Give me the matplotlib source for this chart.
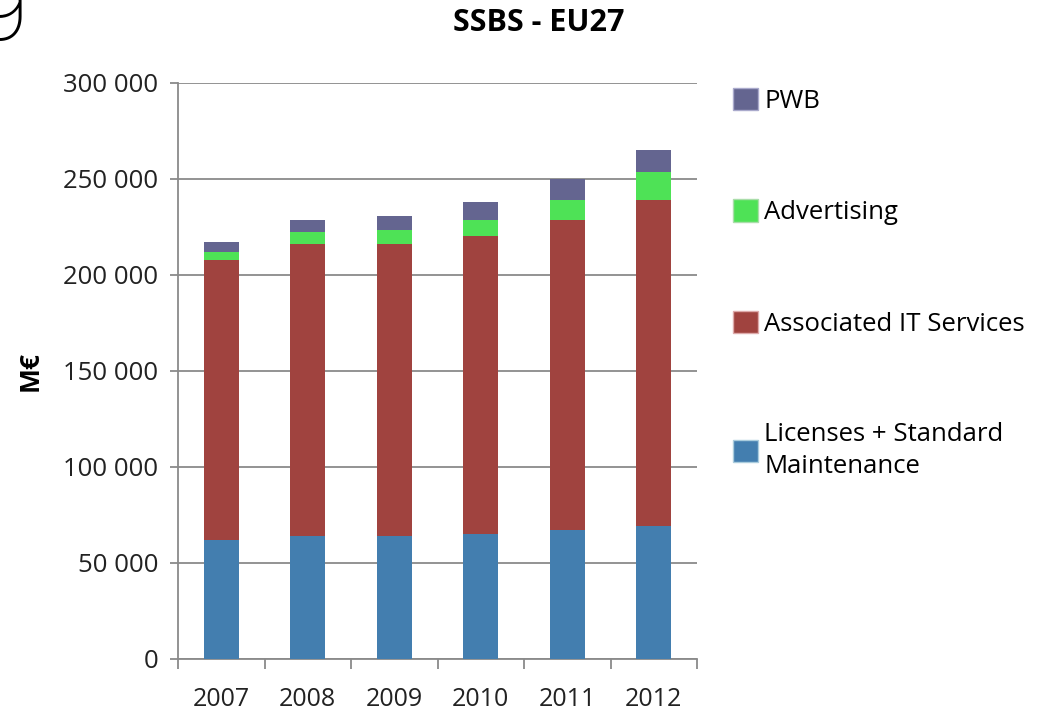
import matplotlib
matplotlib.use("Agg")
import matplotlib.pyplot as plt
import numpy as np
from matplotlib.patches import Patch

years = ["2007", "2008", "2009", "2010", "2011", "2012"]
licenses = [62000, 64100, 64100, 65300, 67200, 69400]
it_services = [145600, 151800, 151800, 154800, 161200, 169500]
advertising = [4200, 6300, 7300, 8300, 10500, 14500]
pwb = [5200, 6400, 7500, 9600, 10900, 11500]
yticks = [0, 50000, 100000, 150000, 200000, 250000, 300000]
ytick_labels = ["0", "50 000", "100 000", "150 000", "200 000", "250 000", "300 000"]

c_blue = "#437EAF"
c_red = "#A0433F"
c_green = "#4EE256"
c_purple = "#646590"

plt.rcParams['font.family'] = ['Open Sans', 'DejaVu Sans']

fig = plt.figure(figsize=(10.38, 7.15), dpi=100)
ax = fig.add_axes([178/1038, 1-659/715, (697-178)/1038, (659-83)/715])

x = np.arange(len(years))
w = 0.41
b1 = np.array(licenses)
b2 = b1 + np.array(it_services)
b3 = b2 + np.array(advertising)
ax.bar(x, licenses, w, color=c_blue, zorder=3)
ax.bar(x, it_services, w, bottom=b1, color=c_red, zorder=3)
ax.bar(x, advertising, w, bottom=b2, color=c_green, zorder=3)
ax.bar(x, pwb, w, bottom=b3, color=c_purple, zorder=3)

ax.set_xlim(-0.5, len(years) - 0.5)
ax.set_ylim(0, 300000)
ax.set_yticks(yticks)
ax.set_yticklabels(ytick_labels, fontsize=18.5, color="#222222")
ax.yaxis.grid(True, color="#8a8a8a", linewidth=1.3, zorder=0)
ax.set_xticks(x)
ax.set_xticklabels(years, fontsize=18, color="#222222")
ax.set_xticks(np.arange(len(years) + 1) - 0.5, minor=True)
ax.tick_params(axis='x', which='major', length=0, pad=20)
ax.tick_params(axis='x', which='minor', length=7, color="#8a8a8a", width=1.3)
ax.tick_params(axis='y', length=6, color="#8a8a8a", width=1.3, pad=8)
for s in ["top", "right"]:
    ax.spines[s].set_visible(False)
for s in ["left", "bottom"]:
    ax.spines[s].set_color("#8a8a8a")
    ax.spines[s].set_linewidth(1.3)

ax.set_ylabel("M€", fontsize=19, fontweight="bold", labelpad=14)
fig.text(539/1038, 1-23/715, "SSBS - EU27", ha="center", va="center",
         fontsize=22, fontweight="bold")

handles = [Patch(facecolor=c_purple, edgecolor="#aaaacc"),
           Patch(facecolor=c_green, edgecolor="#aaddaa"),
           Patch(facecolor=c_red, edgecolor="#ddaaaa"),
           Patch(facecolor=c_blue, edgecolor="#aaccdd")]
labels = ["PWB", "Advertising", "Associated IT Services", "Licenses + Standard\nMaintenance"]
leg = fig.legend(handles, labels, loc="upper left", bbox_to_anchor=(723/1038, 1-78/715),
                 frameon=False, fontsize=18.5, handlelength=0.95, handleheight=0.95,
                 handletextpad=0.25, labelspacing=3.32, borderaxespad=0)
for t in leg.get_texts():
    t.set_linespacing(1.35)

fig.text(-31/1038, 1-17/715, "g", fontsize=80, fontfamily=["Roboto", "DejaVu Sans"],
         fontweight="light", ha="left", va="baseline")

fig.savefig("out.png", dpi=100)
